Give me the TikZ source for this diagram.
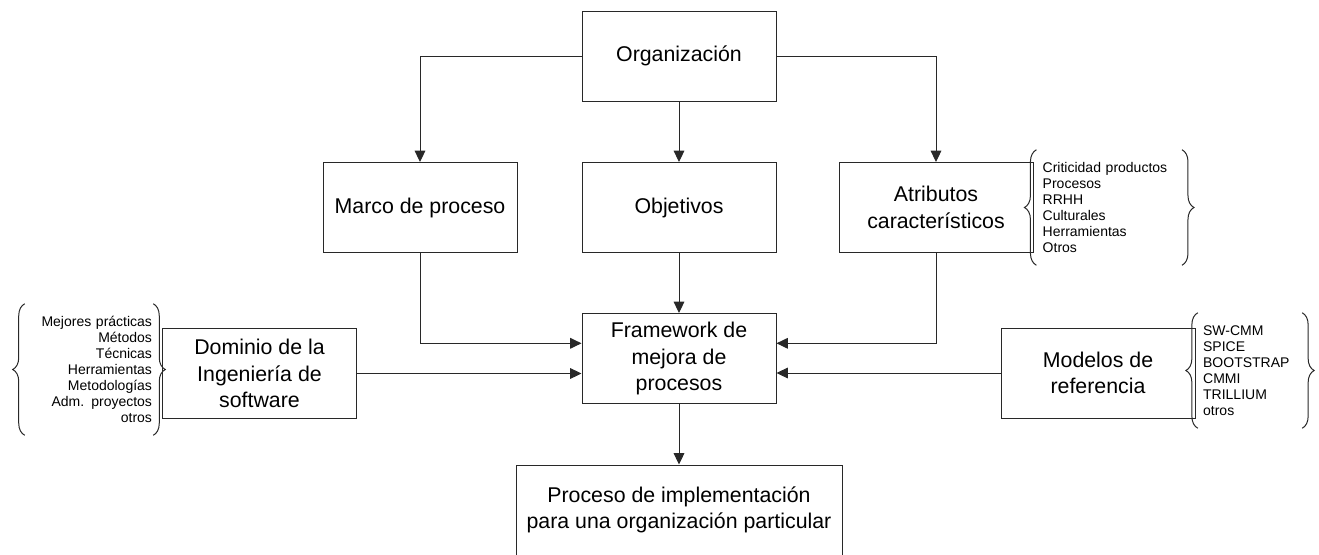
\documentclass[tikz,border=0pt]{standalone}
\usepackage{fontspec}
\setmainfont{Liberation Sans}
\usepackage{xcolor}
\usetikzlibrary{arrows.meta, positioning, decorations.pathreplacing}
\definecolor{linegray}{RGB}{40, 40, 40}

\begin{document}
\begin{tikzpicture}[
    x=0.75pt, y=-0.75pt,
    caja/.style={rectangle, draw=linegray, line width=0.75pt, inner sep=0pt, minimum width=145.5pt, minimum height=67.5pt, text centered, align=center, font=\fontsize{16}{20}\selectfont},
    lista/.style={rectangle, inner ysep=0pt, font=\fontsize{10.5}{12}\selectfont},
    llave/.style={decorate, decoration={brace, amplitude=9pt}, draw=linegray, line width=0.75pt},
    arrow/.style={draw=linegray, line width=0.75pt, -{Triangle[length=8.5pt, width=8pt]}}
]

\useasboundingbox (0,0) rectangle (1319,554);

\node (org) [caja] at (679,56) {Organización};
\node (marco) [caja] at (420,207.5) {Marco de proceso};
\node (obj) [caja] at (679,207.5) {Objetivos};
\node (atrib) [caja] at (936,207.5) {Atributos\\característicos};
\node (frame) [caja] at (679,358.5) {Framework de\\mejora de\\procesos};
\node (dominio) [caja] at (259.5,373.5) {Dominio de la\\Ingeniería de\\software};
\node (modelos) [caja] at (1098,373) {Modelos de\\referencia};
\node (proceso) [caja, minimum width=244.5pt] at (679,510) {Proceso de implementación\\para una organización particular};

\node (listadom) [lista, text width=94.5pt, inner xsep=0.75pt, align=right, minimum height=98.25pt] at (89,369.5) {Mejores prácticas\\Métodos\\Técnicas\\Herramientas\\Metodologías\\Adm. proyectos\\otros};
\node (listaatrib) [lista, text width=99.75pt, inner xsep=4.5pt, align=left, minimum height=86.25pt] at (1109.2,207.5) {Criticidad productos\\Procesos\\RRHH\\Culturales\\Herramientas\\Otros};
\node (listamod) [lista, text width=70.3pt, inner xsep=3.75pt, align=left, minimum height=86.25pt] at (1250,370.5) {SW-CMM\\SPICE\\BOOTSTRAP\\CMMI\\TRILLIUM\\otros};

\draw [llave] (listadom.south west) -- (listadom.north west);
\draw [llave] (listadom.north east) -- (listadom.south east);
\draw [llave] (listaatrib.south west) -- (listaatrib.north west);
\draw [llave] (listaatrib.north east) -- (listaatrib.south east);
\draw [llave] (listamod.south west) -- (listamod.north west);
\draw [llave] (listamod.north east) -- (listamod.south east);

\draw [arrow] (org.west) -| (marco.north);
\draw [arrow] (org.east) -| (atrib.north);
\draw [arrow] (org) -- (obj);
\draw [arrow] (obj) -- (frame);
\draw [arrow] (marco.south) |- ([yshift=11.4pt]frame.west);
\draw [arrow] (atrib.south) |- ([yshift=11.4pt]frame.east);
\draw [arrow] (dominio.east) -- (frame.west |- dominio.east);
\draw [arrow] (modelos.west) -- (frame.east |- modelos.west);
\draw [arrow] (frame) -- (proceso);

\end{tikzpicture}
\end{document}
